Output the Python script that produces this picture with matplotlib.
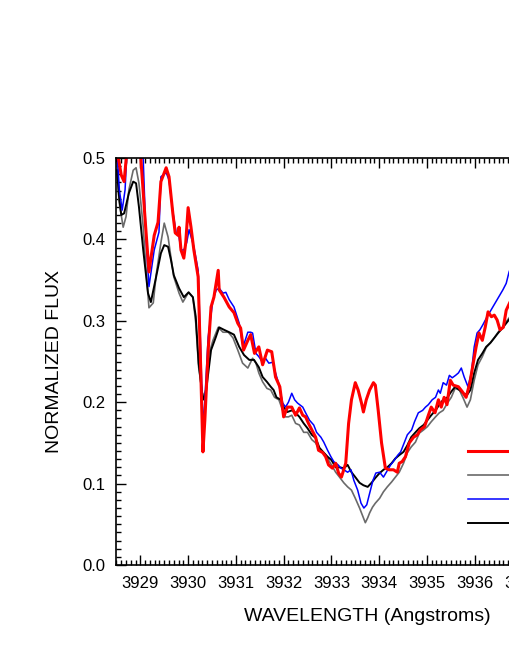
import matplotlib
matplotlib.use("Agg")
import matplotlib.pyplot as plt
from matplotlib.ticker import MultipleLocator, FormatStrFormatter

plt.rcParams['font.family'] = ['Liberation Sans', 'DejaVu Sans']

# ---- data (wavelength in Angstrom, normalized flux) ----
red_wl = [3928.51, 3928.60, 3928.66, 3928.72, 3928.85, 3929.01, 3929.10, 3929.18, 3929.29, 3929.37,
          3929.43, 3929.54, 3929.60, 3929.68, 3929.73, 3929.79, 3929.81, 3929.85, 3929.91, 3929.95,
          3930.00, 3930.06, 3930.12, 3930.21, 3930.27, 3930.31, 3930.35, 3930.42, 3930.48, 3930.54,
          3930.63, 3930.65, 3930.75, 3930.86, 3930.96, 3931.04, 3931.10, 3931.16, 3931.25, 3931.31,
          3931.39, 3931.48, 3931.56, 3931.66, 3931.75, 3931.83, 3931.92, 3932.00, 3932.08, 3932.17,
          3932.25, 3932.33, 3932.40, 3932.46, 3932.52, 3932.59, 3932.67, 3932.73, 3932.82, 3932.88,
          3932.94, 3933.02, 3933.09, 3933.15, 3933.21, 3933.30, 3933.36, 3933.42, 3933.50, 3933.56,
          3933.63, 3933.67, 3933.73, 3933.80, 3933.88, 3933.92, 3933.98, 3934.05, 3934.13, 3934.21,
          3934.30, 3934.38, 3934.42, 3934.48, 3934.55, 3934.63, 3934.72, 3934.80, 3934.86, 3934.95,
          3935.03, 3935.09, 3935.17, 3935.24, 3935.30, 3935.36, 3935.42, 3935.49, 3935.55, 3935.66,
          3935.74, 3935.82, 3935.90, 3935.97, 3936.03, 3936.09, 3936.16, 3936.22, 3936.28, 3936.35,
          3936.41, 3936.47, 3936.53, 3936.60, 3936.66, 3936.74, 3936.95]
red_flux = [0.510, 0.479, 0.471, 0.510, 0.520, 0.500, 0.424, 0.360, 0.405, 0.421,
            0.471, 0.488, 0.477, 0.432, 0.408, 0.405, 0.415, 0.387, 0.377, 0.396,
            0.439, 0.415, 0.387, 0.354, 0.227, 0.139, 0.178, 0.264, 0.317, 0.329,
            0.362, 0.338, 0.329, 0.317, 0.310, 0.297, 0.291, 0.264, 0.276, 0.283,
            0.260, 0.268, 0.246, 0.264, 0.262, 0.231, 0.219, 0.182, 0.194, 0.194,
            0.184, 0.193, 0.184, 0.182, 0.174, 0.166, 0.157, 0.141, 0.138, 0.133,
            0.123, 0.119, 0.125, 0.113, 0.108, 0.125, 0.174, 0.203, 0.224, 0.215,
            0.199, 0.188, 0.203, 0.215, 0.224, 0.221, 0.190, 0.150, 0.119, 0.117,
            0.117, 0.114, 0.125, 0.127, 0.133, 0.150, 0.157, 0.160, 0.166, 0.170,
            0.184, 0.194, 0.187, 0.203, 0.194, 0.206, 0.197, 0.227, 0.221, 0.219,
            0.213, 0.206, 0.224, 0.248, 0.268, 0.285, 0.276, 0.292, 0.311, 0.305,
            0.307, 0.301, 0.289, 0.292, 0.313, 0.323, 0.328]

blue_wl = [3928.51, 3928.56, 3928.62, 3928.68, 3928.72, 3928.96, 3929.06, 3929.12, 3929.18, 3929.29,
           3929.39, 3929.43, 3929.54, 3929.60, 3929.68, 3929.75, 3929.81, 3929.85, 3929.91, 3929.97,
           3930.02, 3930.12, 3930.21, 3930.27, 3930.31, 3930.35, 3930.42, 3930.52, 3930.59, 3930.65,
           3930.73, 3930.79, 3930.86, 3930.96, 3931.07, 3931.15, 3931.25, 3931.31, 3931.35, 3931.42,
           3931.48, 3931.56, 3931.62, 3931.69, 3931.77, 3931.83, 3931.89, 3931.98, 3932.04, 3932.10,
           3932.17, 3932.23, 3932.29, 3932.40, 3932.46, 3932.54, 3932.63, 3932.69, 3932.78, 3932.84,
           3932.92, 3932.99, 3933.05, 3933.14, 3933.20, 3933.26, 3933.34, 3933.41, 3933.47, 3933.55,
           3933.62, 3933.68, 3933.74, 3933.80, 3933.87, 3933.93, 3934.01, 3934.09, 3934.18, 3934.24,
           3934.32, 3934.39, 3934.45, 3934.53, 3934.59, 3934.68, 3934.74, 3934.82, 3934.91, 3934.97,
           3935.03, 3935.11, 3935.18, 3935.24, 3935.28, 3935.34, 3935.41, 3935.47, 3935.53, 3935.60,
           3935.66, 3935.72, 3935.78, 3935.86, 3935.93, 3935.99, 3936.05, 3936.11, 3936.17, 3936.26,
           3936.32, 3936.40, 3936.47, 3936.53, 3936.59, 3936.66, 3936.72, 3936.85]
blue_flux = [0.510, 0.461, 0.436, 0.461, 0.510, 0.520, 0.498, 0.399, 0.342, 0.387,
             0.409, 0.477, 0.482, 0.473, 0.434, 0.408, 0.403, 0.387, 0.387, 0.396,
             0.412, 0.391, 0.362, 0.252, 0.168, 0.203, 0.280, 0.326, 0.338, 0.340,
             0.334, 0.335, 0.326, 0.317, 0.297, 0.268, 0.286, 0.286, 0.285, 0.260,
             0.256, 0.249, 0.254, 0.248, 0.249, 0.236, 0.224, 0.199, 0.194, 0.200,
             0.211, 0.203, 0.199, 0.194, 0.187, 0.178, 0.172, 0.163, 0.157, 0.151,
             0.141, 0.133, 0.127, 0.123, 0.119, 0.117, 0.114, 0.117, 0.104, 0.092,
             0.076, 0.070, 0.074, 0.088, 0.104, 0.113, 0.114, 0.108, 0.117, 0.123,
             0.129, 0.135, 0.139, 0.151, 0.160, 0.166, 0.176, 0.187, 0.190, 0.194,
             0.197, 0.203, 0.206, 0.215, 0.211, 0.224, 0.221, 0.233, 0.230, 0.233,
             0.236, 0.242, 0.231, 0.219, 0.236, 0.268, 0.285, 0.289, 0.295, 0.305,
             0.311, 0.319, 0.326, 0.332, 0.338, 0.346, 0.360, 0.381]

black_wl = [3928.51, 3928.55, 3928.60, 3928.66, 3928.76, 3928.85, 3928.91, 3928.97, 3929.06, 3929.16,
            3929.22, 3929.33, 3929.43, 3929.50, 3929.58, 3929.64, 3929.70, 3929.81, 3929.91, 3930.01,
            3930.10, 3930.16, 3930.22, 3930.31, 3930.37, 3930.48, 3930.58, 3930.65, 3930.75, 3930.86,
            3930.96, 3931.07, 3931.17, 3931.28, 3931.38, 3931.48, 3931.56, 3931.65, 3931.73, 3931.79,
            3931.85, 3931.94, 3932.00, 3932.08, 3932.17, 3932.25, 3932.33, 3932.42, 3932.50, 3932.59,
            3932.67, 3932.75, 3932.84, 3932.92, 3933.00, 3933.09, 3933.17, 3933.26, 3933.34, 3933.42,
            3933.50, 3933.59, 3933.67, 3933.76, 3933.84, 3933.92, 3934.01, 3934.09, 3934.17, 3934.26,
            3934.34, 3934.42, 3934.51, 3934.59, 3934.67, 3934.76, 3934.84, 3934.93, 3935.01, 3935.09,
            3935.18, 3935.26, 3935.34, 3935.43, 3935.51, 3935.59, 3935.68, 3935.76, 3935.84, 3935.91,
            3935.99, 3936.07, 3936.16, 3936.24, 3936.33, 3936.41, 3936.49, 3936.58, 3936.66, 3936.74,
            3936.95]
black_flux = [0.485, 0.455, 0.430, 0.432, 0.457, 0.471, 0.469, 0.440, 0.387, 0.334,
              0.323, 0.354, 0.383, 0.393, 0.391, 0.375, 0.356, 0.340, 0.329, 0.335,
              0.329, 0.305, 0.248, 0.203, 0.211, 0.264, 0.280, 0.292, 0.289, 0.286,
              0.283, 0.268, 0.258, 0.252, 0.252, 0.243, 0.231, 0.225, 0.219, 0.215,
              0.206, 0.203, 0.194, 0.188, 0.190, 0.187, 0.182, 0.174, 0.168, 0.160,
              0.156, 0.144, 0.138, 0.133, 0.129, 0.120, 0.120, 0.119, 0.123, 0.114,
              0.108, 0.101, 0.098, 0.096, 0.101, 0.107, 0.113, 0.117, 0.120, 0.125,
              0.131, 0.135, 0.139, 0.147, 0.157, 0.163, 0.168, 0.172, 0.178, 0.184,
              0.190, 0.197, 0.203, 0.206, 0.213, 0.219, 0.215, 0.211, 0.209, 0.215,
              0.236, 0.252, 0.260, 0.268, 0.273, 0.279, 0.285, 0.291, 0.297, 0.303,
              0.313]

gray_wl = [3928.51, 3928.55, 3928.64, 3928.70, 3928.76, 3928.85, 3928.91, 3928.97, 3929.06, 3929.12,
           3929.18, 3929.27, 3929.33, 3929.43, 3929.50, 3929.58, 3929.64, 3929.70, 3929.81, 3929.89,
           3929.95, 3930.01, 3930.10, 3930.16, 3930.22, 3930.31, 3930.37, 3930.44, 3930.52, 3930.63,
           3930.73, 3930.84, 3930.94, 3931.04, 3931.14, 3931.25, 3931.35, 3931.42, 3931.48, 3931.56,
           3931.65, 3931.73, 3931.81, 3931.90, 3931.98, 3932.04, 3932.10, 3932.17, 3932.25, 3932.33,
           3932.42, 3932.50, 3932.59, 3932.67, 3932.75, 3932.84, 3932.92, 3933.00, 3933.09, 3933.17,
           3933.26, 3933.34, 3933.42, 3933.50, 3933.59, 3933.63, 3933.67, 3933.71, 3933.76, 3933.80,
           3933.86, 3933.92, 3934.01, 3934.09, 3934.17, 3934.26, 3934.34, 3934.42, 3934.51, 3934.59,
           3934.67, 3934.76, 3934.84, 3934.93, 3935.01, 3935.09, 3935.18, 3935.26, 3935.34, 3935.43,
           3935.51, 3935.59, 3935.68, 3935.76, 3935.84, 3935.91, 3935.99, 3936.07, 3936.16, 3936.24,
           3936.33, 3936.41, 3936.49, 3936.58, 3936.66, 3936.74, 3936.95]
gray_flux = [0.494, 0.448, 0.415, 0.428, 0.461, 0.485, 0.488, 0.469, 0.415, 0.362,
             0.316, 0.322, 0.356, 0.396, 0.420, 0.403, 0.378, 0.354, 0.334, 0.323,
             0.329, 0.335, 0.329, 0.297, 0.243, 0.206, 0.215, 0.260, 0.276, 0.292,
             0.286, 0.286, 0.279, 0.264, 0.248, 0.242, 0.254, 0.248, 0.236, 0.225,
             0.217, 0.215, 0.206, 0.203, 0.190, 0.182, 0.182, 0.184, 0.174, 0.172,
             0.163, 0.163, 0.154, 0.150, 0.141, 0.138, 0.131, 0.123, 0.114, 0.108,
             0.101, 0.096, 0.092, 0.082, 0.070, 0.064, 0.058, 0.052, 0.058, 0.064,
             0.071, 0.076, 0.082, 0.090, 0.096, 0.102, 0.108, 0.114, 0.125, 0.138,
             0.145, 0.151, 0.162, 0.166, 0.170, 0.176, 0.182, 0.187, 0.190, 0.199,
             0.206, 0.217, 0.215, 0.205, 0.194, 0.203, 0.227, 0.246, 0.256, 0.267,
             0.273, 0.279, 0.286, 0.292, 0.299, 0.305, 0.316]

x_ticks = [3929, 3930, 3931, 3932, 3933, 3934, 3935, 3936, 3937, 3938, 3939]
y_ticks = [0.0, 0.1, 0.2, 0.3, 0.4, 0.5]

fig = plt.figure(figsize=(5.1, 6.6), dpi=100)
ax = fig.add_axes([0.2284, 0.1439, 0.9833, 0.6167])

l_gray, = ax.plot(gray_wl, gray_flux, color='#6a6a6a', lw=1.2)
l_black, = ax.plot(black_wl, black_flux, color='black', lw=1.4)
l_blue, = ax.plot(blue_wl, blue_flux, color='#0000ff', lw=1.1)
l_red, = ax.plot(red_wl, red_flux, color='#ff0000', lw=2.2)

ax.set_xlim(3928.5, 3939.0)
ax.set_ylim(0.0, 0.5)
ax.set_xticks(x_ticks)
ax.set_yticks(y_ticks)
ax.xaxis.set_minor_locator(MultipleLocator(0.1))
ax.yaxis.set_minor_locator(MultipleLocator(0.01))
ax.yaxis.set_major_formatter(FormatStrFormatter('%.1f'))
ax.tick_params(which='both', direction='in', top=True, right=False, labelsize=12, width=1)
ax.tick_params(which='major', length=7, pad=8)
ax.tick_params(which='minor', length=3.5)
for side in ['left', 'bottom', 'top']:
    ax.spines[side].set_linewidth(1.2)
ax.spines['right'].set_visible(False)

ax.set_xlabel('WAVELENGTH (Angstroms)', fontsize=14, labelpad=12)
ax.set_ylabel('NORMALIZED FLUX', fontsize=14, labelpad=14)

ax.legend([l_red, l_gray, l_blue, l_black], ['', '', '', ''],
          loc='upper left', bbox_to_anchor=(0.700, 0.295), frameon=False,
          borderpad=0, borderaxespad=0, handlelength=5, labelspacing=0.54,
          fontsize=12)

fig.savefig('out.png', dpi=100)
